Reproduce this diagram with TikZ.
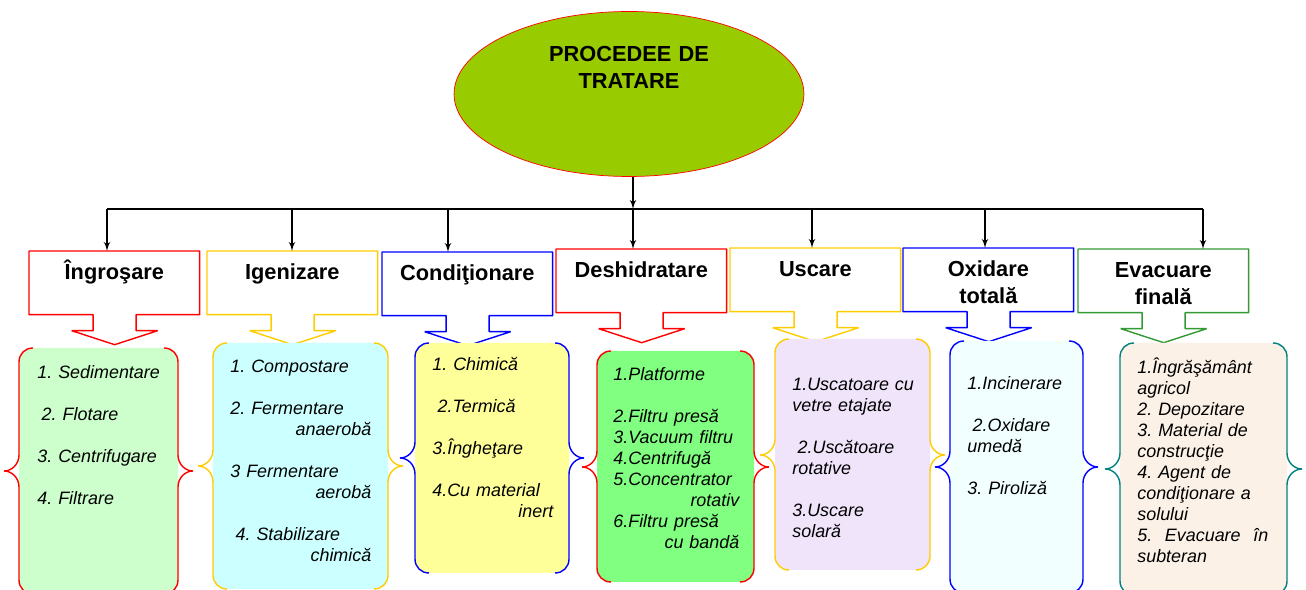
\documentclass[tikz,border=0pt]{standalone}
\usepackage{fontspec}
\setmainfont{Liberation Sans}
\usepackage{tikz}
\usetikzlibrary{arrows,shapes.geometric}

\definecolor{olive}{HTML}{99CC00}
\definecolor{amber}{HTML}{FFCC00}
\definecolor{leaf}{HTML}{339933}
\definecolor{teal}{HTML}{008080}
\definecolor{mint}{HTML}{CCFFCC}
\definecolor{aqua}{HTML}{CCFFFF}
\definecolor{lemon}{HTML}{FFFF99}
\definecolor{lime}{HTML}{80FF80}
\definecolor{lilac}{HTML}{F0E4FA}
\definecolor{frost}{HTML}{F2FFFF}
\definecolor{cream}{HTML}{FCF1E6}

% header box with a down arrow under it
\newcommand{\callout}[2]{%
\draw[#2,line width=0.8pt] (#1.north west) -- (#1.north east) -- (#1.south east)
  -- ++(-63.5,0) -- ++(0,16) -- ++(21.5,0) -- ++(-43,14) -- ++(-43,-14)
  -- ++(21.5,0) -- ++(0,-16) -- (#1.south west) -- cycle;}

% pair of braces: left, right, top, middle, bottom, line colour, fill colour
\newcommand{\bracepair}[7]{%
\fill[#7,rounded corners=0.28cm] (#1,#3) rectangle (#2,#5);
\draw[#6,line width=0.8pt] (#1+14,#3) .. controls (#1+6,#3) and (#1,#3+6) .. (#1,#3+14)
  -- (#1,#4-16) .. controls (#1,#4-7) and (#1-7,#4) .. (#1-15,#4)
  .. controls (#1-7,#4) and (#1,#4+7) .. (#1,#4+16)
  -- (#1,#5-14) .. controls (#1,#5-6) and (#1+6,#5) .. (#1+14,#5);
\draw[#6,line width=0.8pt] (#2-14,#3) .. controls (#2-6,#3) and (#2,#3+6) .. (#2,#3+14)
  -- (#2,#4-16) .. controls (#2,#4-7) and (#2+7,#4) .. (#2+15,#4)
  .. controls (#2+7,#4) and (#2,#4+7) .. (#2,#4+16)
  -- (#2,#5-14) .. controls (#2,#5-6) and (#2-6,#5) .. (#2-14,#5);}

\newcommand{\rt}{\hspace*{\fill}}

\tikzset{
  hdr/.style={anchor=north west,inner sep=0pt,text width=3.4cm,align=center,
    text height=0.56cm,text depth=0.70cm,font=\fontsize{12.4}{15.3}\selectfont\bfseries},
  lst/.style={anchor=base west,inner sep=0pt,align=left,
    font=\fontsize{10.2}{11.9}\selectfont\itshape\frenchspacing},
}

\begin{document}
\begin{tikzpicture}[x=0.02cm,y=-0.02cm,>=latex',line join=bevel]

\useasboundingbox (0,0) rectangle (1306,590);
\clip (0,0) rectangle (1306,590);

\node[ellipse,draw=red,fill=olive,minimum width=7cm,minimum height=3.3cm,inner sep=0pt,
  text width=3.6cm,align=center,text height=0.4cm,text depth=1.68cm,
  font=\fontsize{12.4}{15.3}\selectfont\bfseries] (root) at (629,94) {PROCEDEE DE\\TRATARE};

\node[hdr] (h1) at (29,251) {Îngroşare};
\node[hdr] (h2) at (207,251) {Igenizare};
\node[hdr] (h3) at (382,252) {Condiţionare};
\node[hdr] (h4) at (556,249) {Deshidratare};
\node[hdr] (h5) at (730,248) {Uscare};
\node[hdr] (h6) at (903,248) {Oxidare\\totală};
\node[hdr] (h7) at (1078,249) {Evacuare\\finală};

\callout{h1}{red}
\callout{h2}{amber}
\callout{h3}{blue}
\callout{h4}{red}
\callout{h5}{amber}
\callout{h6}{blue}
\callout{h7}{leaf}

\coordinate (b1) at (107,209);
\coordinate (b2) at (292,209);
\coordinate (b3) at (448,209);
\coordinate (b4) at (633,209);
\coordinate (b5) at (812,209);
\coordinate (b6) at (985,209);
\coordinate (b7) at (1203,209);

\draw[line width=0.8pt] (b1) -- (b7);
\draw[->,line width=0.8pt] (b4 |- root.south) -- (b4);
\draw[->,line width=0.8pt] (b1) -- (b1 |- h1.north);
\draw[->,line width=0.8pt] (b2) -- (b2 |- h2.north);
\draw[->,line width=0.8pt] (b3) -- (b3 |- h3.north);
\draw[->,line width=0.8pt] (b4) -- (b4 |- h4.north);
\draw[->,line width=0.8pt] (b5) -- (b5 |- h5.north);
\draw[->,line width=0.8pt] (b6) -- (b6 |- h6.north);
\draw[->,line width=0.8pt] (b7) -- (b7 |- h7.north);

\bracepair{19}{178}{348}{471}{594}{red}{mint}
\bracepair{213}{388}{343}{466}{589}{amber}{aqua}
\bracepair{415}{569}{343}{458}{573}{blue}{lemon}
\bracepair{597}{754}{351}{467}{582}{red}{lime}
\bracepair{775}{930}{339}{455}{570}{amber}{lilac}
\bracepair{950}{1083}{341}{467}{593}{blue}{frost}
\bracepair{1120}{1287}{343}{469}{595}{teal}{cream}

\node[lst,text width=2.7cm] (l1) at (37,379) {1. Sedimentare\\[11.9pt]\hspace*{2.5pt}2. Flotare\\[11.9pt]3. Centrifugare\\[11.9pt]4. Filtrare};
\node[lst,text width=2.82cm] (l2) at (230,373) {1. Compostare\\[11.9pt]2. Fermentare\\\rt anaerobă\\[11.9pt]3 Fermentare\\\rt aerobă\\[11.9pt]\hspace*{3pt}4. Stabilizare\\\rt chimică};
\node[lst,text width=2.42cm] (l3) at (432,371) {1. Chimică\\[11.9pt]\hspace*{3pt}2.Termică\\[11.9pt]3.Îngheţare\\[11.9pt]4.Cu material\\\rt inert};
\node[lst,text width=2.52cm] (l4) at (613,381) {1.Platforme\\[11.9pt]2.Filtru presă\\3.Vacuum filtru\\4.Centrifugă\\5.Concentrator\\\rt rotativ\\6.Filtru presă\\\rt cu bandă};
\node[lst,text width=2.66cm] (l5) at (792,391) {1.Uscatoare cu\\vetre etajate\\[11.9pt]\hspace*{3pt}2.Uscătoare\\rotative\\[11.9pt]3.Uscare\\solară};
\node[lst,text width=2.3cm] (l6) at (967,390) {1.Incinerare\\[11.9pt]\hspace*{3pt}2.Oxidare\\umedă\\[11.9pt]3. Piroliză};
\node[lst,text width=2.62cm] (l7) at (1137,374) {1.Îngrăşământ\\agricol\\2. Depozitare\\3. Material de\\construcţie\\4. Agent de\\condiţionare a\\solului\\5.\hfill Evacuare\hfill în\\subteran};

\end{tikzpicture}
\end{document}
